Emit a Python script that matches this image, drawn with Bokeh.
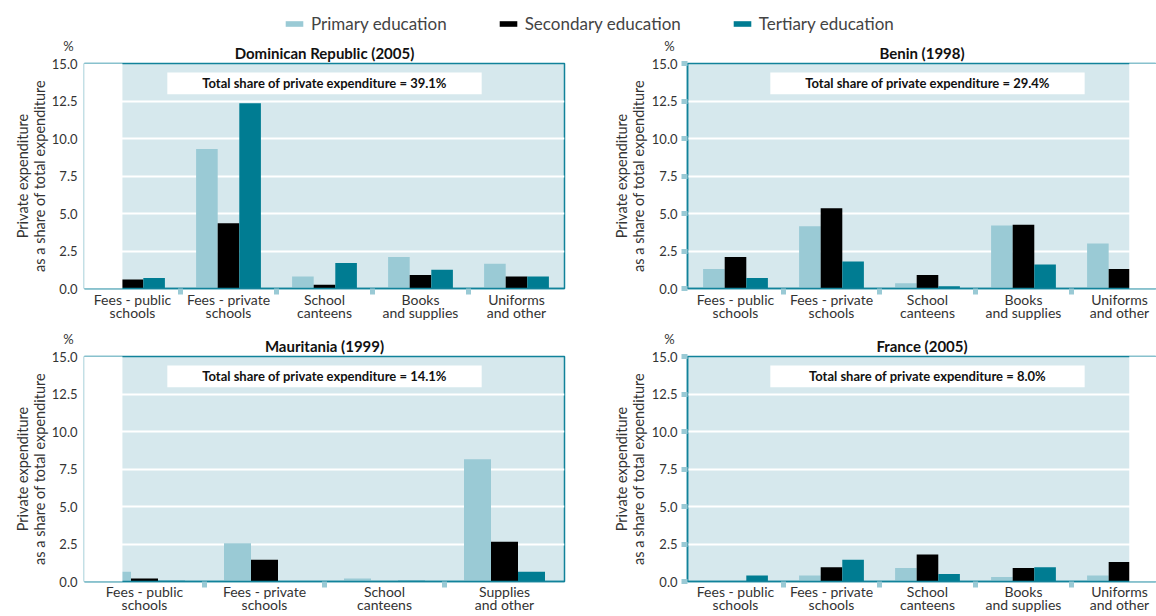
import math
from bokeh.plotting import figure
from bokeh.models import (FixedTicker, Range1d, BoxAnnotation, Label, Legend, LegendItem,
                          ColumnDataSource, PrintfTickFormatter)
from bokeh.layouts import column, row
from bokeh.embed import file_html
from bokeh.resources import INLINE

# ---------------- data ----------------
series = ["Primary education", "Secondary education", "Tertiary education"]
colors = ["#9ACAD5", "#000000", "#007C92"]

cats5 = ["Fees - public\nschools", "Fees - private\nschools", "School\ncanteens",
         "Books\nand supplies", "Uniforms\nand other"]
cats_mr = ["Fees - public\nschools", "Fees - private\nschools", "School\ncanteens",
           "Supplies\nand other"]

dr_primary = [0.0, 9.3, 0.8, 2.1, 1.65]
dr_secondary = [0.6, 4.35, 0.25, 0.9, 0.8]
dr_tertiary = [0.7, 12.35, 1.7, 1.25, 0.8]

bj_primary = [1.3, 4.15, 0.35, 4.2, 3.0]
bj_secondary = [2.1, 5.35, 0.9, 4.25, 1.3]
bj_tertiary = [0.7, 1.8, 0.15, 1.6, 0.0]

mr_primary = [0.65, 2.55, 0.2, 8.15]
mr_secondary = [0.2, 1.45, 0.0, 2.65]
mr_tertiary = [0.05, 0.0, 0.05, 0.65]

fr_primary = [0.0, 0.4, 0.9, 0.3, 0.4]
fr_secondary = [0.0, 0.95, 1.8, 0.9, 1.3]
fr_tertiary = [0.4, 1.45, 0.5, 0.95, 0.0]

titles = ["Dominican Republic (2005)", "Benin (1998)", "Mauritania (1999)", "France (2005)"]
totals = ["39.1%", "29.4%", "14.1%", "8.0%"]
y_ticks = [0, 2.5, 5, 7.5, 10, 12.5, 15]
y_title = "Private expenditure\nas a share of total expenditure"

# ---------------- style ----------------
FONT = "Lato"
TEAL = "#11829A"
BG = "#D6E8ED"
LIGHT = "#9ACAD5"
TXT = "#333333"

FRAME_W = 481          # full (virtual) frame width of one panel
LEFT_W, RIGHT_W = 599, 557


def make_panel(title, cats, vals, total, side, pos):
    n = len(cats)
    ppc = FRAME_W / n                      # pixels per category
    if side == "left":
        width, mbl = LEFT_W, 83
        mbr = LEFT_W - mbl - FRAME_W
        x_end = n
    else:
        width, mbl, mbr = RIGHT_W, 87, 0
        x_end = (RIGHT_W - mbl) / ppc
    if pos == "top":
        height, mbt, mbb, xstand = 286, 25, 35, 2
    else:
        height, mbt, mbb, xstand = 292, 32, 33, 1
    frame_h = height - mbt - mbb

    p = figure(width=width, height=height, x_range=Range1d(0, x_end), y_range=Range1d(0, 15),
               output_backend="svg", toolbar_location=None, tools="",
               min_border_left=mbl, min_border_right=mbr,
               min_border_top=mbt, min_border_bottom=mbb)
    p.background_fill_color = BG
    p.border_fill_color = "white"
    p.outline_line_color = TEAL
    p.outline_line_width = 1.5

    p.title.text = title
    p.title.align = "center"
    p.title.text_font = FONT
    p.title.text_font_size = "15px"
    p.title.text_font_style = "bold"
    p.title.text_color = "#111111"
    p.title.standoff = 3

    centers = [i + 0.5 for i in range(n)]
    bw = 0.225
    for k, (vv, col) in enumerate(zip(vals, colors)):
        src = ColumnDataSource(dict(x=[c + (k - 1) * bw for c in centers], top=vv))
        p.vbar(x="x", top="top", width=bw, bottom=0, source=src,
               fill_color=col, line_color=None)

    # grid
    p.xgrid.visible = False
    p.ygrid.grid_line_color = "white"
    p.ygrid.grid_line_width = 2

    # x axis (category separators drawn as minor ticks)
    seps = list(range(1, n)) if side == "left" else list(range(1, n + 1))
    xa = p.xaxis[0]
    xa.ticker = FixedTicker(ticks=centers, minor_ticks=seps)
    xa.major_label_overrides = {c: lab for c, lab in zip(centers, cats)}
    xa.major_tick_line_color = None
    xa.major_tick_out = 0
    xa.major_tick_in = 0
    xa.minor_tick_line_color = LIGHT
    xa.minor_tick_line_width = 5
    xa.minor_tick_out = 0
    xa.minor_tick_in = -6
    xa.axis_line_color = TEAL
    xa.axis_line_width = 1.5
    xa.major_label_text_font = FONT
    xa.major_label_text_font_size = "14px"
    xa.major_label_text_color = TXT
    xa.major_label_text_line_height = 0.8
    xa.major_label_standoff = xstand

    # y axis
    ya = p.yaxis[0]
    ya.ticker = FixedTicker(ticks=y_ticks)
    ya.formatter = PrintfTickFormatter(format="%.1f")
    ya.minor_tick_line_color = None
    ya.major_label_text_font = FONT
    ya.major_label_text_font_size = "13px"
    ya.major_label_text_color = TXT
    ya.axis_label = y_title
    ya.axis_label_text_font = FONT
    ya.axis_label_text_font_size = "14.5px"
    ya.axis_label_text_font_style = "normal"
    ya.axis_label_text_color = TXT
    ya.axis_label_text_line_height = 1.0
    if side == "left":
        ya.major_tick_line_color = None
        ya.major_tick_out = 0
        ya.axis_line_color = "#C8DEE4"
        ya.major_label_standoff = 7
        ya.axis_label_standoff = 1
    else:
        ya.major_tick_line_color = LIGHT
        ya.major_tick_line_width = 5
        ya.major_tick_out = 6
        ya.major_tick_in = 0
        ya.axis_line_color = TEAL
        ya.axis_line_width = 1.5
        ya.major_label_standoff = 4
        ya.axis_label_standoff = 2

    # white band that hides part of the frame
    if side == "left":
        p.add_layout(BoxAnnotation(left=-1, right=38 / ppc, bottom=-1, top=16,
                                   fill_color="white", fill_alpha=1, line_color=None))
    else:
        p.add_layout(BoxAnnotation(left=442.7 / ppc, right=x_end + 1, bottom=-1, top=16,
                                   fill_color="white", fill_alpha=1, line_color=None))

    # total share box
    mid = 2.5 * 96.2 / ppc if side == "right" else n / 2
    half = 157.5 / ppc
    ppu = frame_h / 15
    p.add_layout(BoxAnnotation(left=mid - half, right=mid + half,
                               top=15 - 9 / ppu, bottom=15 - 31 / ppu,
                               fill_color="white", fill_alpha=1, line_color=None))
    p.add_layout(Label(x=mid, y=15 - 20 / ppu, text="Total share of private expenditure = " + total,
                       text_align="center", text_baseline="middle", text_font=FONT,
                       text_font_size="13px", text_font_style="bold", text_color="#111111"))

    # % sign above the y axis (placed in the left side panel, canvas units)
    pct_x = mbl - (15 if side == "left" else 17)
    p.add_layout(Label(x=pct_x, y=mbt - 17.5, x_units="canvas", y_units="canvas",
                       text="%", text_align="center", text_baseline="middle", text_font=FONT,
                       text_font_size="13px", text_color=TXT), "left")
    return p


p1 = make_panel(titles[0], cats5, [dr_primary, dr_secondary, dr_tertiary], totals[0], "left", "top")
p2 = make_panel(titles[1], cats5, [bj_primary, bj_secondary, bj_tertiary], totals[1], "right", "top")
p3 = make_panel(titles[2], cats_mr, [mr_primary, mr_secondary, mr_tertiary], totals[2], "left", "bottom")
p4 = make_panel(titles[3], cats5, [fr_primary, fr_secondary, fr_tertiary], totals[3], "right", "bottom")

# legend strip
lg = figure(width=1156, height=38, x_range=Range1d(0, 1), y_range=Range1d(0, 1),
            output_backend="svg", toolbar_location=None, tools="",
            min_border_left=0, min_border_right=0, min_border_top=0, min_border_bottom=0)
lg.axis.visible = False
lg.grid.visible = False
lg.outline_line_color = None
items = []
for name, col in zip(series, colors):
    r = lg.vbar(x=[0.5], top=[0], width=0.01, fill_color=col, line_color=None)
    items.append(LegendItem(label=name, renderers=[r]))
legend = Legend(items=items, orientation="horizontal", location=(283, 4),
                glyph_width=22, glyph_height=7, label_standoff=6, spacing=50,
                padding=0, margin=0, border_line_color=None, background_fill_alpha=0,
                label_text_font=FONT, label_text_font_size="17px", label_text_color="#444444")
lg.add_layout(legend)

layout = column(lg, row(p1, p2), row(p3, p4))
open("out.html", "w").write(file_html(layout, INLINE))
